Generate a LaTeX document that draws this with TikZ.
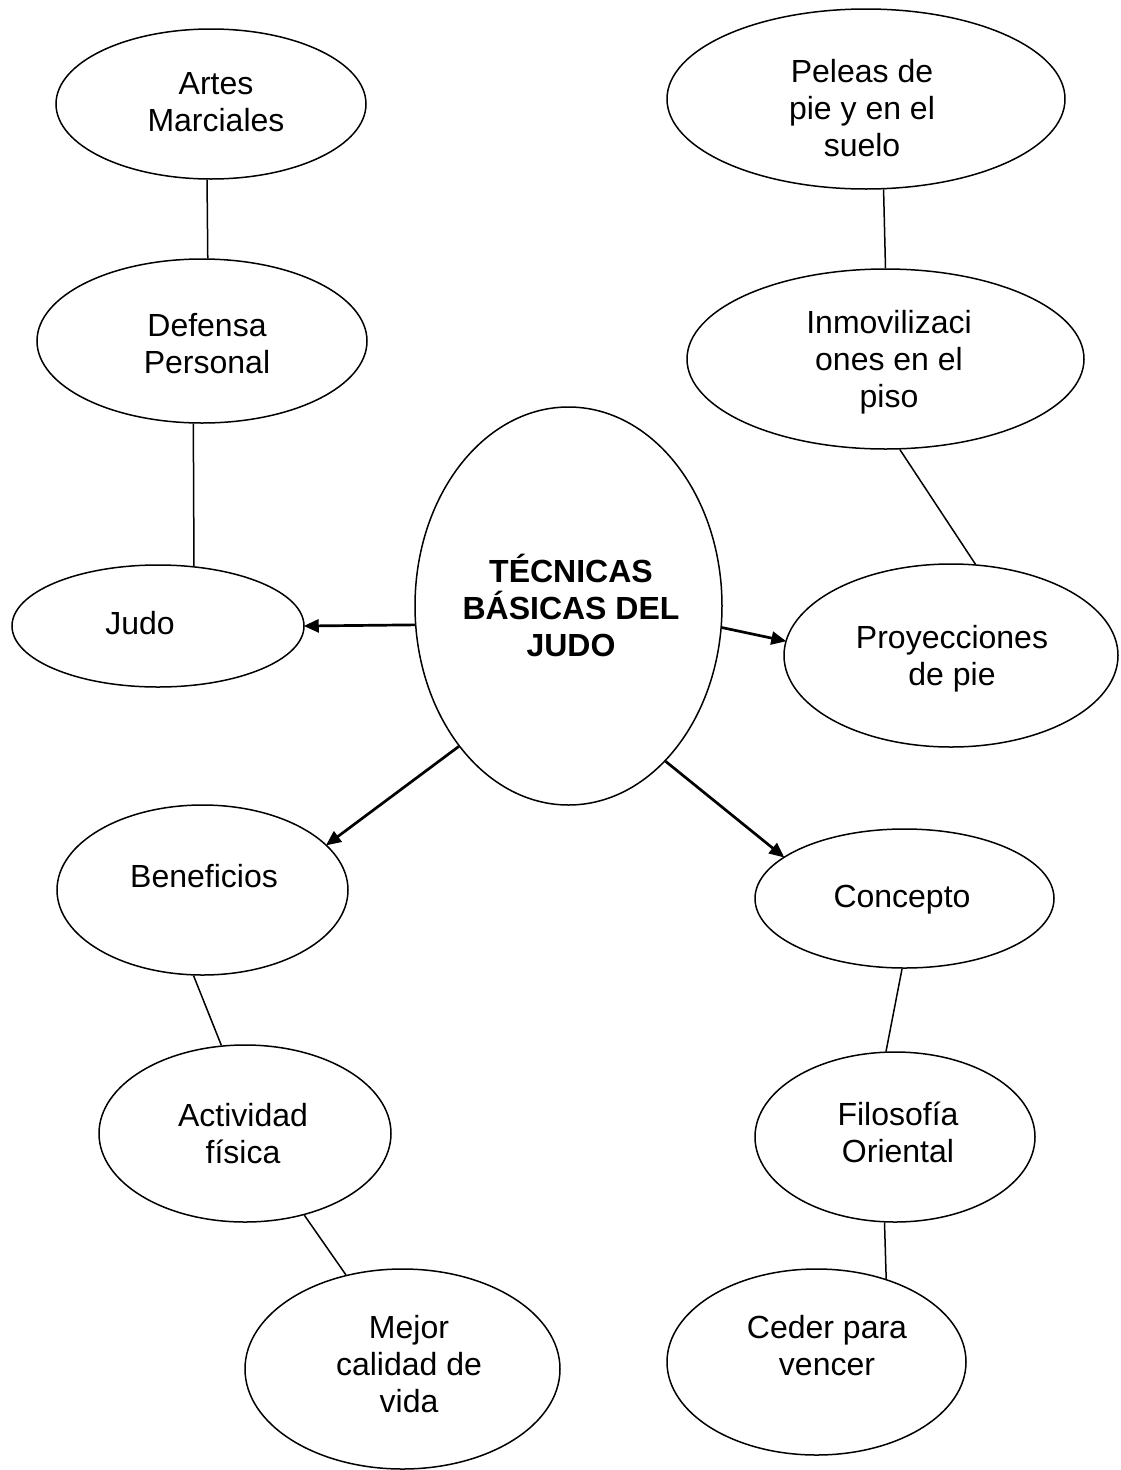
\documentclass[tikz,border=0pt]{standalone}
\usepackage{fontspec}
\setmainfont{Liberation Sans}
\usetikzlibrary{shapes.geometric,arrows.meta}
\tikzset{
  bub/.style 2 args={draw, ellipse, line width=1.5pt, inner sep=0pt, minimum width=#1, minimum height=#2},
  lbl/.style={align=center, anchor=base, inner sep=0pt, font=\fontsize{32}{36.7}\selectfont},
  link/.style={line width=1.5pt},
  arr/.style={line width=2.7pt, -{Triangle[length=15pt,width=13pt]}, shorten >=-1pt}
}
\begin{document}
\begin{tikzpicture}[x=1pt,y=-1pt]
\useasboundingbox[fill=white] (0,0) rectangle (1121,1470);
% ellipses
\node[bub={310pt}{150pt}] (art) at (211,104) {};
\node[bub={330pt}{164pt}] (def) at (202,341) {};
\node[bub={292pt}{122pt}] (judo) at (158,626) {};
\node[bub={307pt}{398pt}] (tec) at (568.5,606) {};
\node[bub={398pt}{180pt}] (pel) at (866,99) {};
\node[bub={397pt}{180pt}] (inm) at (885.5,359) {};
\node[bub={334pt}{183pt}] (pro) at (951,655.5) {};
\node[bub={291pt}{170pt}] (ben) at (202.5,890) {};
\node[bub={299pt}{139pt}] (con) at (904.5,898.5) {};
\node[bub={292pt}{177pt}] (act) at (245,1133.5) {};
\node[bub={280pt}{170pt}] (fil) at (895,1137) {};
\node[bub={315pt}{200pt}] (mej) at (402.5,1369) {};
\node[bub={299pt}{186pt}] (ced) at (816.5,1362) {};
% texts (anchor = baseline of the last line)
\node[lbl] (tart) at (216,131) {Artes\\Marciales};
\node[lbl] (tdef) at (207,373) {Defensa\\Personal};
\node[lbl] (tjudo) at (140,634) {Judo};
\node[lbl,font=\fontsize{32}{36.7}\selectfont\bfseries] (ttec) at (571,656) {TÉCNICAS\\BÁSICAS DEL\\JUDO};
\node[lbl] (tpel) at (862,156) {Peleas de\\pie y en el\\suelo};
\node[lbl] (tinm) at (889,407) {Inmovilizaci\\ones en el\\piso};
\node[lbl] (tpro) at (952,685) {Proyecciones\\de pie};
\node[lbl] (tben) at (204,887) {Beneficios};
\node[lbl] (tcon) at (902,907) {Concepto};
\node[lbl] (tact) at (243,1163) {Actividad\\física};
\node[lbl] (tfil) at (898,1162) {Filosofía\\Oriental};
\node[lbl] (tmej) at (409,1412) {Mejor\\calidad de\\vida};
\node[lbl] (tced) at (827,1375) {Ceder para\\vencer};
% plain connectors
\draw[link] (art.267) -- (def.86.5);
\draw[link] (def.264.4) -- (judo.59.5);
\draw[link] (pel.281.9) -- (inm.90);
\draw[link] (inm.279.7) -- (pro.75.9);
\draw[link] (ben.264.3) -- (act.105.8);
\draw[link] (con.268.8) -- (fil.96.7);
\draw[link] (act.306.9) -- (mej.121.9);
\draw[link] (fil.263.3) -- (ced.50.4);
% arrows
\draw[arr] (tec.187.05) -- (judo.east);
\draw[arr] (tec.352.95) -- (pro.175.7);
\draw[arr] (tec.232.9) -- (ben.20.2);
\draw[arr] (tec.302.1) -- (con.161.6);
\end{tikzpicture}
\end{document}
